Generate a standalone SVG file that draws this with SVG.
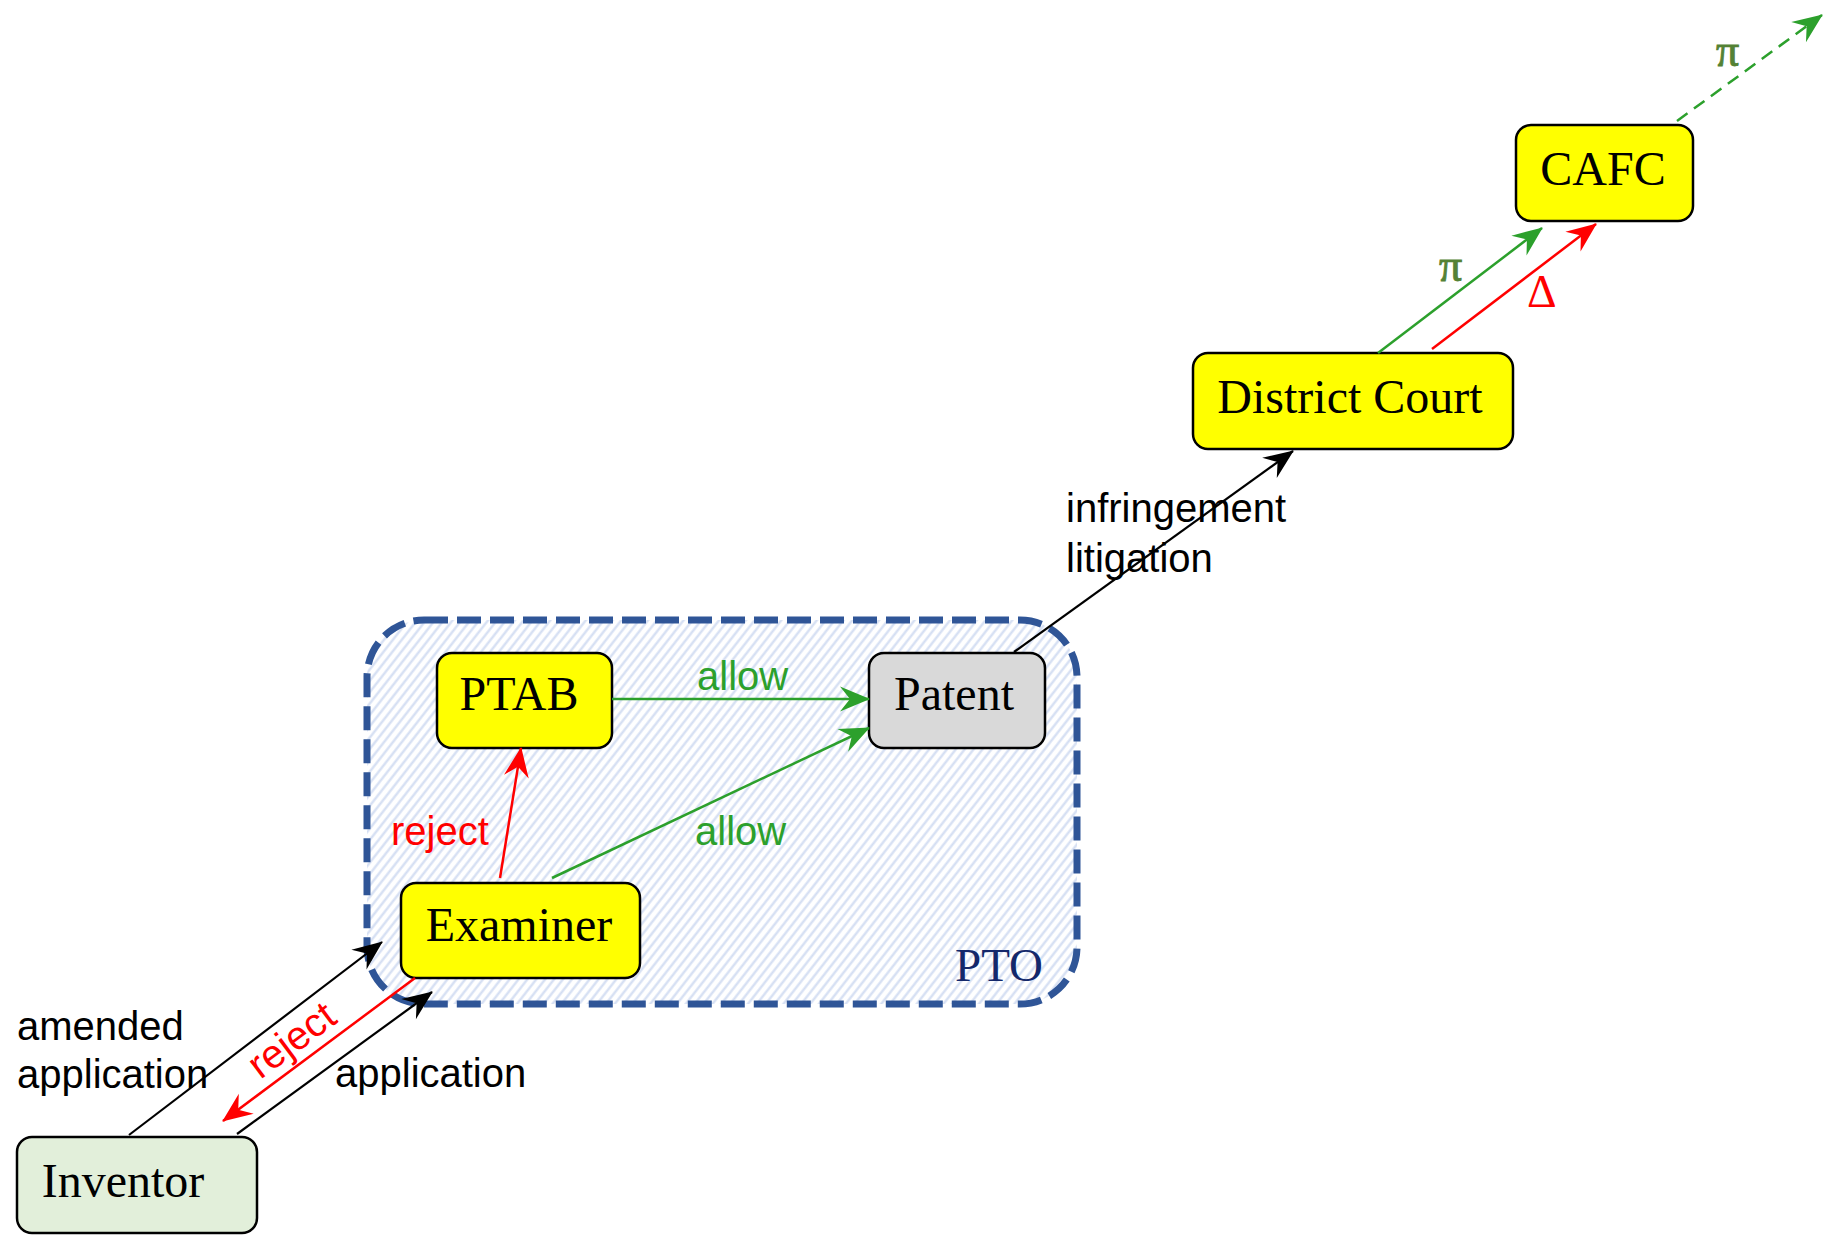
<svg xmlns="http://www.w3.org/2000/svg" width="1832" height="1240" viewBox="0 0 1832 1240">
<style>
.node{stroke:#000;stroke-width:2.5}
.yel{fill:#FFFF00}
.ntext{font-family:"Liberation Serif","Times New Roman",serif;font-size:48px;fill:#000;text-anchor:middle}
.lbl{font-family:"Liberation Sans",Arial,sans-serif;font-size:40px}
.blk{stroke:#000;stroke-width:2.2;fill:none}
.grn{stroke:#2CA02C;stroke-width:2.5;fill:none}
.red{stroke:#FF0000;stroke-width:2.5;fill:none}
.pi{font-family:"Liberation Serif",serif;font-size:46px;fill:#548235;stroke:#548235;stroke-width:0.9}
</style>
<defs>
<pattern id="hatch" patternUnits="userSpaceOnUse" width="7" height="7" patternTransform="rotate(38)">
<rect width="7" height="7" fill="#FFFFFF"/>
<line x1="3.5" y1="0" x2="3.5" y2="7" stroke="#D2DDF2" stroke-width="2.2"/>
</pattern>
<marker id="ab" markerUnits="userSpaceOnUse" viewBox="-31 -14 33 28" markerWidth="33" markerHeight="28" refX="0" refY="0" orient="auto"><path d="M1,0 L-29,-12.5 L-19,0 L-29,12.5 Z" fill="#000"/></marker>
<marker id="ar" markerUnits="userSpaceOnUse" viewBox="-31 -14 33 28" markerWidth="33" markerHeight="28" refX="0" refY="0" orient="auto"><path d="M1,0 L-29,-12.5 L-19,0 L-29,12.5 Z" fill="#FF0000"/></marker>
<marker id="ag" markerUnits="userSpaceOnUse" viewBox="-31 -14 33 28" markerWidth="33" markerHeight="28" refX="0" refY="0" orient="auto"><path d="M1,0 L-29,-12.5 L-19,0 L-29,12.5 Z" fill="#2CA02C"/></marker>
</defs>
<rect width="1832" height="1240" fill="#FFFFFF"/>
<g id="pto">
<rect x="367" y="620" width="710" height="384" rx="57" ry="57" fill="url(#hatch)" stroke="#2F5597" stroke-width="7" stroke-dasharray="24 9"/>
<text x="955" y="981" font-family="Liberation Serif,serif" font-size="47" fill="#14286B">PTO</text>
</g>
<g id="inventor">
<rect class="node" x="17" y="1137" width="240" height="96" rx="15" fill="#E2EFDA"/>
<text class="ntext" x="123" y="1197">Inventor</text>
</g>
<g id="examiner">
<rect class="node yel" x="401" y="883" width="239" height="95" rx="15"/>
<text class="ntext" x="519" y="941">Examiner</text>
</g>
<g id="ptab">
<rect class="node yel" x="437" y="653" width="175" height="95" rx="15"/>
<text class="ntext" x="519" y="710">PTAB</text>
</g>
<g id="patent">
<rect class="node" x="869" y="653" width="176" height="95" rx="15" fill="#D9D9D9"/>
<text class="ntext" x="954" y="710">Patent</text>
</g>
<g id="district">
<rect class="node yel" x="1193" y="353" width="320" height="96" rx="15"/>
<text class="ntext" x="1350" y="413">District Court</text>
</g>
<g id="cafc">
<rect class="node yel" x="1516" y="125" width="177" height="96" rx="15"/>
<text class="ntext" x="1603" y="185">CAFC</text>
</g>
<g id="connectors">
<line class="blk" x1="129" y1="1135" x2="382" y2="942" marker-end="url(#ab)"/>
<line class="red" x1="415" y1="978" x2="223" y2="1121" marker-end="url(#ar)"/>
<line class="blk" x1="237" y1="1134" x2="432" y2="992" marker-end="url(#ab)"/>
<line class="red" x1="500" y1="878" x2="521" y2="748" marker-end="url(#ar)"/>
<line class="grn" x1="552" y1="878" x2="869" y2="728" marker-end="url(#ag)"/>
<line class="grn" x1="612" y1="699" x2="869" y2="699" marker-end="url(#ag)"/>
<line class="blk" x1="1014" y1="652" x2="1293" y2="451" marker-end="url(#ab)"/>
<line class="grn" x1="1378" y1="353" x2="1542" y2="228" marker-end="url(#ag)"/>
<line class="red" x1="1432" y1="349" x2="1596" y2="224" marker-end="url(#ar)"/>
<line class="grn" x1="1677" y1="121" x2="1822" y2="15" stroke-dasharray="13 8" marker-end="url(#ag)"/>
<text class="lbl" x="17" y="1040" fill="#000">amended</text>
<text class="lbl" x="17" y="1088" fill="#000">application</text>
<text class="lbl" x="335" y="1087" fill="#000">application</text>
<text class="lbl" transform="translate(293,1042) rotate(-36.7)" x="0" y="11" text-anchor="middle" fill="#FF0000">reject</text>
<text class="lbl" x="391" y="845" fill="#FF0000">reject</text>
<text class="lbl" x="697" y="690" fill="#2CA02C">allow</text>
<text class="lbl" x="695" y="845" fill="#2CA02C">allow</text>
<text class="lbl" x="1066" y="522" fill="#000">infringement</text>
<text class="lbl" x="1066" y="572" fill="#000">litigation</text>
<text class="pi" x="1439" y="281">π</text>
<text x="1527" y="307" font-family="Liberation Serif,serif" font-size="46" fill="#FF0000">Δ</text>
<text class="pi" x="1716" y="66">π</text>
</g>
</svg>
